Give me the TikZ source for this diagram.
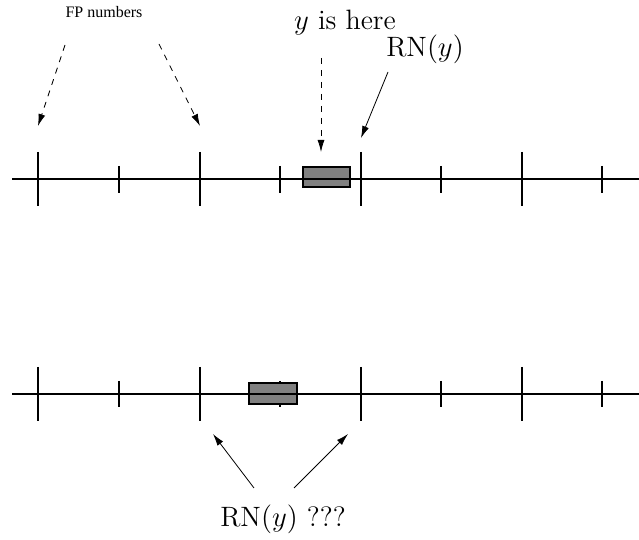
\documentclass[tikz,border=0pt]{standalone}
\usepackage{fontspec}
\newfontfamily\timesfont{Liberation Serif}
\usetikzlibrary{arrows.meta}

\begin{document}
\begin{tikzpicture}[x=0.5pt,y=-0.5pt,
  axis/.style={line width=0.55pt},
  ptr/.style={line width=0.4pt,-{Latex[length=6pt,width=3.5pt]}},
  bigtxt/.style={font=\fontsize{14}{16}\selectfont,anchor=base,inner sep=0pt}]
\useasboundingbox (0,0) rectangle (639,540);

% upper line
\foreach \x in {38,200,361,522} \draw[axis] (\x,152) -- (\x,206);
\foreach \x in {119,280,441,602} \draw[axis] (\x,166) -- (\x,193);
\draw[axis,fill=gray] (303,167) rectangle (350,187);
\draw[axis] (12,179) -- (639,179);

% lower line
\foreach \x in {38,200,361,522} \draw[axis] (\x,367) -- (\x,421);
\foreach \x in {119,280,441,602} \draw[axis] (\x,381) -- (\x,407);
\draw[axis,fill=gray] (249,383) rectangle (297,404);
\draw[axis] (12,394) -- (639,394);

% labels
\node[anchor=base,inner sep=0pt,font=\timesfont\fontsize{8}{10}\selectfont] (fp) at (104,18) {FP numbers};
\node[bigtxt] (yhere) at (345,30) {$y$ is here};
\node[bigtxt] (rn) at (425,57) {RN$(y)$};
\node[bigtxt] (rnq) at (283,527) {RN$(y)$ ???};

\coordinate (fp1) at (65,45);
\coordinate (fp2) at (159,44);
\coordinate (t1) at (38,126);
\coordinate (t2) at (200,126);
\coordinate (ys) at (321,58);
\coordinate (yt) at (321,152);
\coordinate (rs) at (388,72);
\coordinate (rt) at (361,138);
\coordinate (q1) at (254,488);
\coordinate (q2) at (294,488);
\coordinate (b1) at (213,434);
\coordinate (b2) at (348,434);

% pointers
\draw[ptr,dashed] (fp1) -- (t1);
\draw[ptr,dashed] (fp2) -- (t2);
\draw[ptr,dashed] (ys) -- (yt);
\draw[ptr] (rs) -- (rt);
\draw[ptr] (q1) -- (b1);
\draw[ptr] (q2) -- (b2);
\end{tikzpicture}
\end{document}
